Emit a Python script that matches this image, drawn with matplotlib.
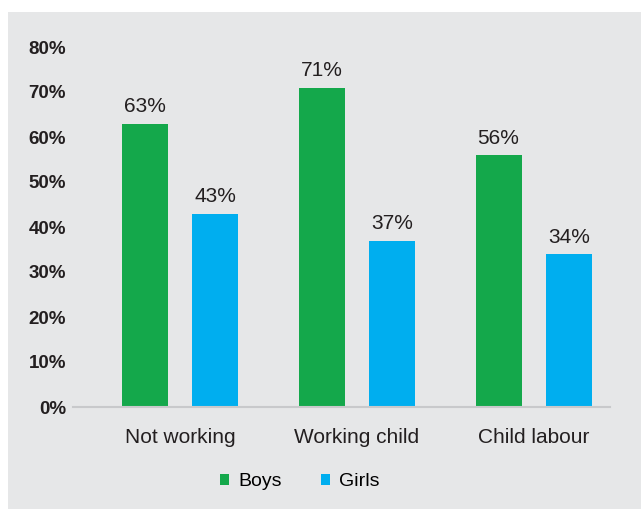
import numpy as np
import matplotlib.pyplot as plt
from matplotlib.patches import Rectangle
from matplotlib.ticker import PercentFormatter

categories = ["Not working", "Working child", "Child labour"]
boys = [63, 71, 56]
girls = [43, 37, 34]
yticks = [0, 10, 20, 30, 40, 50, 60, 70, 80]

GREEN = "#14A84B"
BLUE = "#00AEEF"
BG = "#E6E7E8"

plt.rcParams["font.family"] = ["Liberation Sans", "DejaVu Sans"]

W, H = 641, 509
fig = plt.figure(figsize=(W / 100, H / 100), dpi=100)
fig.patch.set_facecolor("white")
fig.add_artist(Rectangle((8 / W, 0), 1, 1 - 12 / H, transform=fig.transFigure,
                         facecolor=BG, edgecolor="none", zorder=0))

# axes: x from 73 to 610 px, y from 407 (0%) to 47 (80%)
ax = fig.add_axes([73 / W, (H - 407) / H, (610 - 73) / W, (407 - 47) / H])
ax.set_facecolor("none")

x = np.arange(len(categories))
bw = 0.26
off = 0.2
b1 = ax.bar(x - off, boys, bw, color=GREEN, label="Boys", zorder=2)
b2 = ax.bar(x + off, girls, bw, color=BLUE, label="Girls", zorder=2)

for bars, vals in ((b1, boys), (b2, girls)):
    for r, v in zip(bars, vals):
        ax.text(r.get_x() + r.get_width() / 2, v + 1.6, f"{v}%",
                ha="center", va="bottom", fontsize=15, color="#231F20")

ax.set_xlim(-0.605, 2.43)
ax.set_ylim(0, 80)
ax.set_yticks(yticks)
ax.yaxis.set_major_formatter(PercentFormatter(decimals=0))
ax.set_xticks(x)
ax.set_xticklabels(categories, fontsize=15, color="#231F20")
for lab in ax.get_yticklabels():
    lab.set_fontweight("bold")
    lab.set_fontsize(13.5)
    lab.set_color("#231F20")
ax.tick_params(axis="both", length=0)
ax.tick_params(axis="y", pad=5)
ax.tick_params(axis="x", pad=15)
for s in ["top", "right", "left"]:
    ax.spines[s].set_visible(False)
ax.spines["bottom"].set_color("#C8C9CB")
ax.spines["bottom"].set_linewidth(1.5)

fig.legend(handles=[b1, b2], labels=["Boys", "Girls"], loc="center",
           bbox_to_anchor=(300 / W, 1 - 482 / H), ncol=2, frameon=False,
           fontsize=14, handlelength=0.45, handleheight=0.45, columnspacing=2.0,
           handletextpad=0.5)

fig.savefig("out.png", dpi=100, facecolor=fig.get_facecolor())
